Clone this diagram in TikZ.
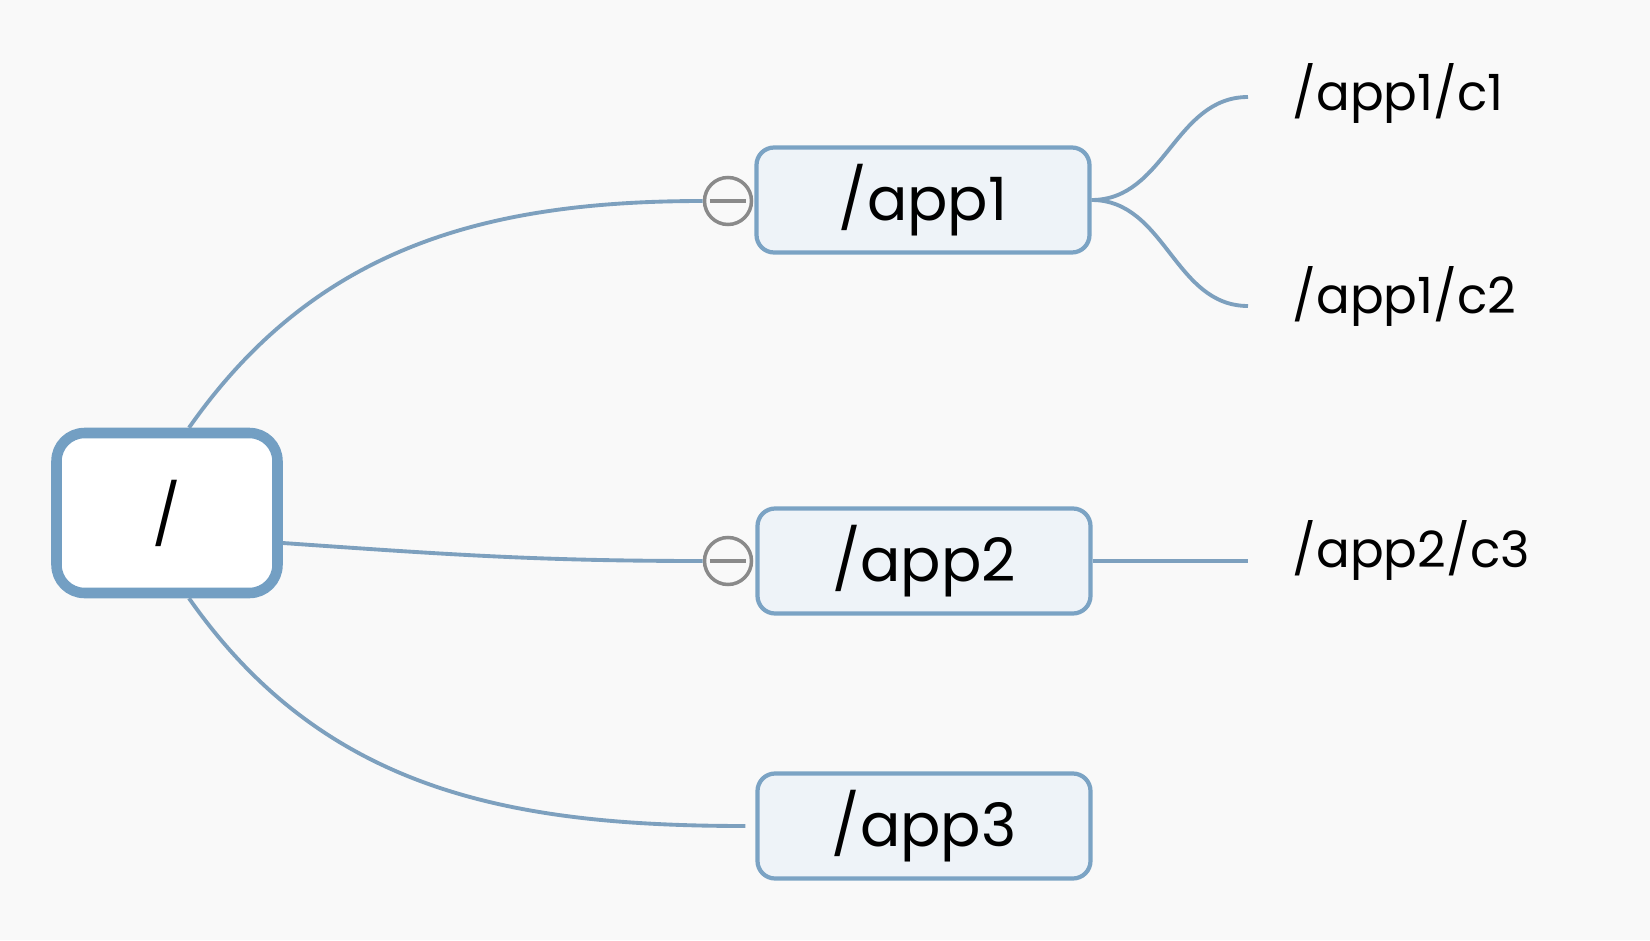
\documentclass[tikz,border=0pt]{standalone}
\usepackage{fontspec}
\setmainfont{Poppins}
\usepackage{xcolor}
\usepackage{tikz}
\usetikzlibrary{positioning,calc}
\definecolor{linkblue}{HTML}{7DA0BE}
\definecolor{boxline}{HTML}{7BA3C4}
\definecolor{boxfill}{HTML}{EEF3F8}
\definecolor{rootline}{HTML}{739FC3}
\definecolor{paper}{HTML}{F9F9F9}
\definecolor{foldgray}{HTML}{8A8A8A}

\begin{document}
\begin{tikzpicture}[
 topic/.style={draw=boxline,fill=boxfill,line width=1.2pt,rounded corners=5pt,minimum width=3.33cm,minimum height=1.05cm,font=\fontsize{17}{20}\selectfont},
 root/.style={draw=rootline,fill=white,line width=3pt,rounded corners=8pt,minimum width=2.21cm,minimum height=1.6cm,font=\fontsize{17}{20}\selectfont},
 sub/.style={anchor=west,inner sep=0pt,font=\fontsize{14.2}{17}\selectfont},
 fold/.style={circle,draw=foldgray,fill=paper,line width=1pt,minimum size=0.47cm,inner sep=0pt},
 link/.style={draw=linkblue,line width=1.1pt}]
 \fill[paper] (0,0) rectangle (16.5,9.4);
 \useasboundingbox (0,0) rectangle (16.5,9.4);
 \node[root] (slash) at (1.67,4.27) {/};
 \node[topic] (app1) at (9.23,7.40) {/app1};
 \node[topic] (app2) at (9.24,3.79) {/app2};
 \node[topic] (app3) at (9.24,1.14) {/app3};
 \node[fold] (m1) at (7.28,7.39) {};
 \node[fold] (m2) at (7.28,3.79) {};
 \draw[foldgray,line width=1.2pt] ([xshift=0.7mm]m1.west) -- ([xshift=-0.7mm]m1.east);
 \draw[foldgray,line width=1.2pt] ([xshift=0.7mm]m2.west) -- ([xshift=-0.7mm]m2.east);
 \node[sub] (c1) at (12.92,8.47) {/app1/c1};
 \node[sub] (c2) at (12.92,6.44) {/app1/c2};
 \node[sub] (c3) at (12.92,3.90) {/app2/c3};
 % root to topics
 \draw[link] ([xshift=2.2mm]slash.north) to[out=55,in=180] (m1.west);
 \draw[link] ([yshift=-3mm]slash.east) to[out=-4,in=180] (m2.west);
 \draw[link] ([xshift=2.2mm]slash.south) to[out=-55,in=180] ([xshift=-1mm]app3.west);
 % topics to subtopics
 \draw[link] (app1.east) to[out=0,in=180] ([xshift=-4.4mm]c1.west |- 0,8.43);
 \draw[link] (app1.east) to[out=0,in=180] ([xshift=-4.4mm]c2.west |- 0,6.34);
 \draw[link] (app2.east) -- ([xshift=-4.4mm]c3.west |- 0,3.79);
\end{tikzpicture}
\end{document}
